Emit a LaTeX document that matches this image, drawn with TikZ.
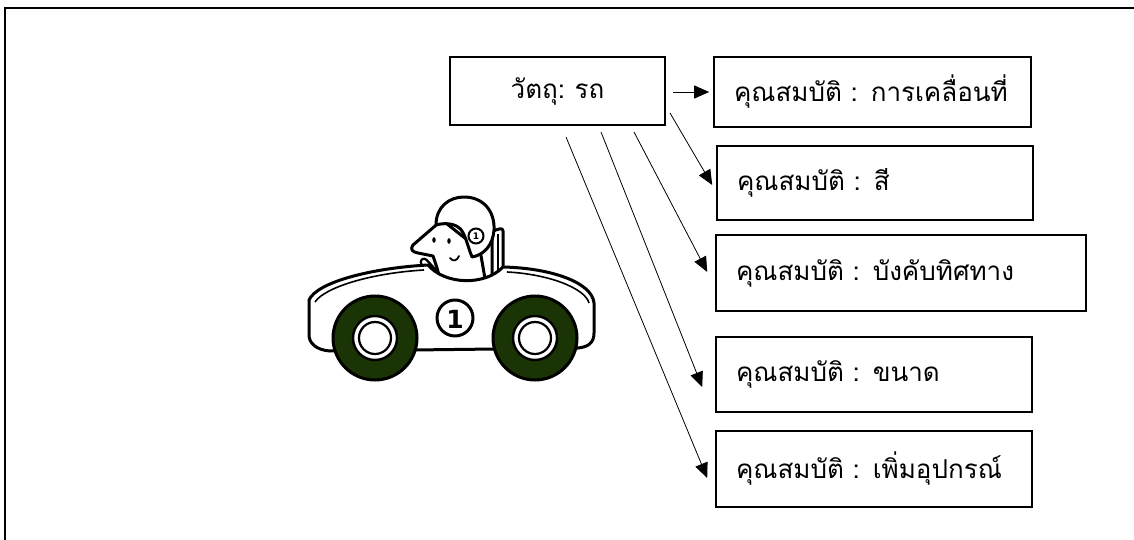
\documentclass[tikz,border=0pt]{standalone}
\usepackage{fontspec}
\newfontfamily\thaifont[Script=Thai,WordSpace=0.75]{Loma}
\newfontfamily\numfont{DejaVu Sans}
\usetikzlibrary{arrows.meta,calc}
\definecolor{tyre}{RGB}{26,52,6}

\begin{document}
\begin{tikzpicture}[x=1pt,y=-1pt,
    obj/.style={draw, line width=1.6pt, minimum width=215pt, minimum height=68pt,
      font=\thaifont\fontsize{26}{30}\selectfont},
    prop/.style={draw, line width=1.6pt, inner xsep=20pt, align=left, minimum height=74pt,
      font=\thaifont\fontsize{26}{30}\selectfont},
    link/.style={line width=0.8pt, -{Triangle[length=15pt,width=13pt]}},
    car/.style={line width=3pt, line join=round}]
  \def\Yw{338};  % wheels
  \def\Rw{42pt};
  \useasboundingbox (0,0) rectangle (1134,540);

  % frame
  \draw[line width=2.6pt] (1134,8) -- (5,8) -- (5,540);

  % object and its properties
  \node[obj] (obj) at (557.5,91) {วัตถุ: รถ};
  \node[prop, text width=277pt, minimum height=70pt] (p1) at (872.5,92) {คุณสมบัติ : การเคลื่อนที่};
  \node[prop, text width=276pt] (p2) at (875,183) {คุณสมบัติ : สี};
  \node[prop, text width=330pt, minimum height=76pt] (p3) at (901,273) {คุณสมบัติ : บังคับทิศทาง};
  \node[prop, text width=276pt, minimum height=75pt] (p4) at (874,374.5) {คุณสมบัติ : ขนาด};
  \node[prop, text width=276pt, minimum height=76pt] (p5) at (874,469) {คุณสมบัติ : เพิ่มอุปกรณ์};

  % arrows
  \coordinate (s1) at (673,92);
  \coordinate (s2) at (670,113);
  \coordinate (s3) at (634,132);
  \coordinate (s4) at (601,132);
  \coordinate (s5) at (566,137);
  \draw[link] (s1) -- ($(p1.west)+(-4,0)$);
  \draw[link] (s2) -- ($(p2.west)+(-4,2)$);
  \draw[link] (s3) -- ($(p3.west)+(-8,-1)$);
  \draw[link] (s4) -- ($(p4.west)+(-13,12.5)$);
  \draw[link] (s5) -- ($(p5.west)+(-8,9)$);

  % seat
  \filldraw[car, fill=white, rounded corners=3pt] (492,290) -- (492,231) -- (503,228) -- (503,290);
  \draw[line width=1.4pt] (498,234) -- (498,285);
  % driver
  \filldraw[car, fill=white] (442,220) -- (413,245) .. controls (410,249) and (412,252) .. (418,253)
    -- (433,256) -- (437,268) -- (443,290) -- (487,290) -- (480,250) -- cycle;
  \filldraw[car, fill=white] (436,225) .. controls (436,207) and (449,197) .. (464,197)
    .. controls (483,197) and (495,211) .. (494,230) .. controls (493,245) and (484,255) .. (472,257)
    .. controls (467,245) and (465,231) .. (458,227) .. controls (452,223) and (443,223) .. (436,225) -- cycle;
  \draw[line width=2pt, fill=white] (476,236) circle[radius=7.5pt];
  \node[font=\numfont\bfseries\fontsize{9}{9}\selectfont, inner sep=0pt] (hb) at (476,236) {1};
  \fill (434,240) ellipse[x radius=1.7pt, y radius=2.8pt];
  \fill (449,241) ellipse[x radius=1.7pt, y radius=2.8pt];
  \draw[line width=1.8pt, line cap=round] (450,258) .. controls (453,262) and (457,261) .. (459,256);
  % steering
  \draw[line width=9pt, line cap=round] (424,262) -- (446,286);
  \draw[white, line width=4pt, line cap=round] (424,262) -- (446,286);

  % body
  \filldraw[car, fill=white] (309,300) .. controls (317,282) and (372,268) .. (428,265)
    .. controls (445,285) and (485,286) .. (503,267)
    .. controls (550,268) and (592,282) .. (594,303)
    -- (594,333) .. controls (594,343) and (588,347) .. (578,348)
    -- (330,351) .. controls (316,350) and (309,343) .. (309,335) -- cycle;
  \draw[line width=1.6pt] (315,302) .. controls (325,287) and (372,273) .. (424,270);
  \draw[line width=1.6pt] (507,272) .. controls (548,274) and (585,288) .. (589,303);

  % wheels
  \foreach \X in {375,535} {
    \filldraw[car, fill=tyre] (\X,\Yw) circle[radius=\Rw];
    \filldraw[line width=2.4pt, fill=white] (\X,\Yw) circle[radius=22pt];
    \draw[line width=2.2pt] (\X,\Yw) circle[radius=16pt];
  }

  % number
  \draw[car, fill=white] (455,318) circle[radius=18pt];
  \node[font=\numfont\bfseries\fontsize{25}{25}\selectfont, inner sep=0pt] (nb) at (455,319) {1};
\end{tikzpicture}
\end{document}
